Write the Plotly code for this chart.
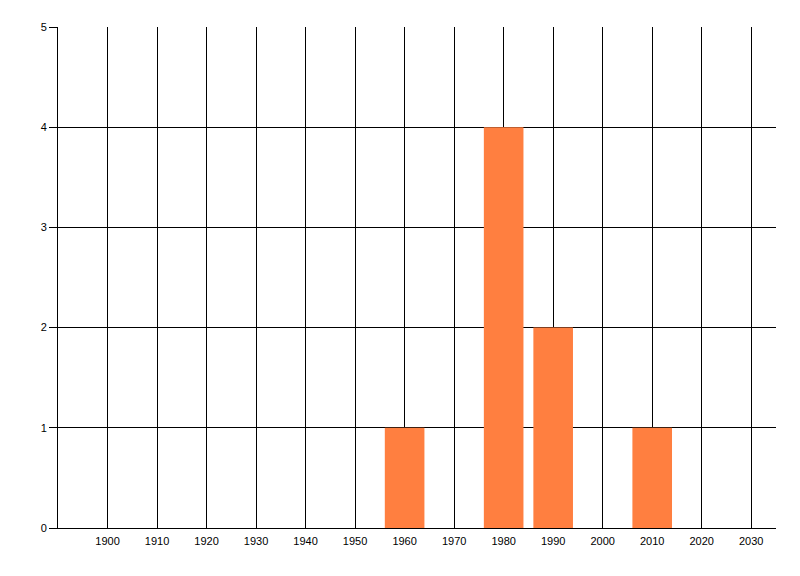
import plotly.graph_objects as go

decades = [1960, 1980, 1990, 2010]
counts = [1, 4, 2, 1]
x_ticks = list(range(1900, 2031, 10))
y_ticks = [0, 1, 2, 3, 4, 5]

fig = go.Figure(go.Bar(x=decades, y=counts, width=8,
                       marker=dict(color="#FF7F40", line=dict(width=0))))

# page body has an 8px default margin; compensate so plot area lands at (58..776, 27..528)
fig.update_layout(
    width=792, height=568,
    margin=dict(l=50, r=24, t=19, b=48),
    paper_bgcolor="white", plot_bgcolor="white",
    showlegend=False,
    font=dict(family="Liberation Sans", size=11, color="black"),
)
fig.update_xaxes(range=[1890, 2035], tickvals=x_ticks, ticktext=[str(v) for v in x_ticks],
                 showgrid=True, gridcolor="black", gridwidth=1,
                 showline=True, linecolor="black", linewidth=1,
                 ticks="", zeroline=False, layer="below traces",
                 automargin=False, ticklabelstandoff=3)
fig.update_yaxes(range=[0, 5], tickvals=y_ticks,
                 showgrid=True, gridcolor="black", gridwidth=1,
                 showline=True, linecolor="black", linewidth=1,
                 ticks="outside", ticklen=8, tickcolor="black",
                 zeroline=False, layer="below traces", automargin=False)

fig.write_html("out.html")
